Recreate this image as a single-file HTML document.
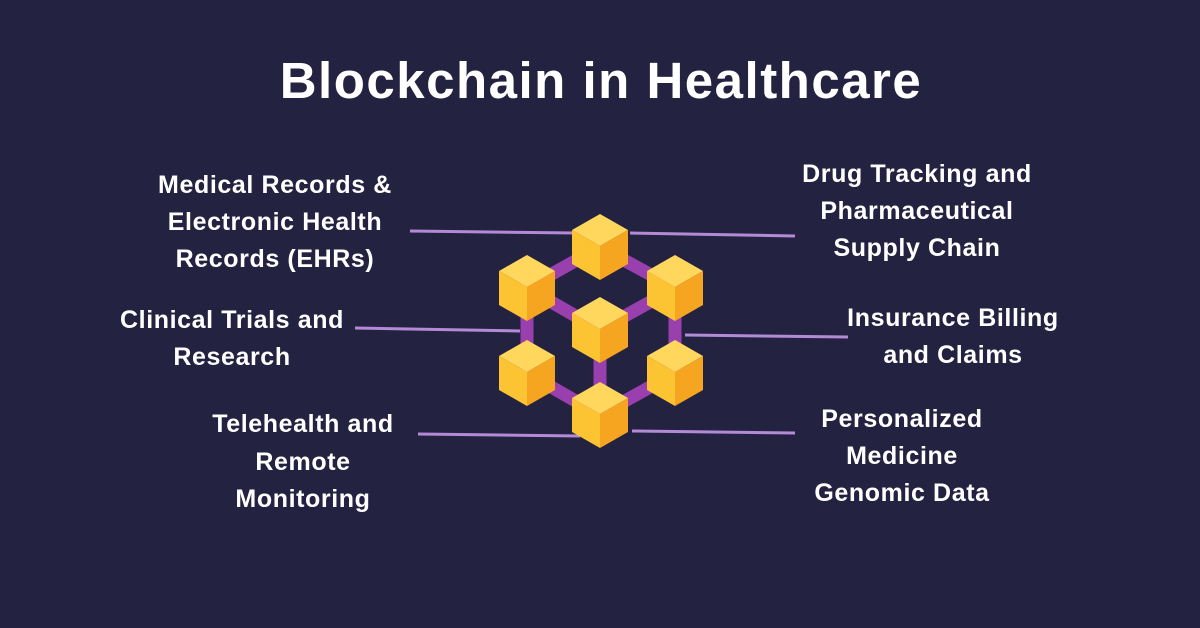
<!DOCTYPE html>
<html><head><meta charset="utf-8"><style>
html,body{margin:0;padding:0;background:#232240;}
svg{display:block}
text{font-family:"Liberation Sans",sans-serif;font-weight:bold;fill:#fff;text-anchor:middle}
</style></head><body>
<svg width="1200" height="628" viewBox="0 0 1200 628" xmlns="http://www.w3.org/2000/svg">
<rect width="1200" height="628" fill="#232240"/>
<text x="601" y="98" font-size="51" letter-spacing="1.5">Blockchain in Healthcare</text>
<g font-size="25" letter-spacing="0.6">
<text x="275" y="193">Medical Records &amp;</text>
<text x="275" y="230">Electronic Health</text>
<text x="275" y="267">Records (EHRs)</text>
<text x="917" y="182">Drug Tracking and</text>
<text x="917" y="219">Pharmaceutical</text>
<text x="917" y="256">Supply Chain</text>
<text x="232" y="328">Clinical Trials and</text>
<text x="232" y="365">Research</text>
<text x="953" y="326">Insurance Billing</text>
<text x="953" y="363">and Claims</text>
<text x="303" y="432">Telehealth and</text>
<text x="303" y="470">Remote</text>
<text x="303" y="507">Monitoring</text>
<text x="902" y="427">Personalized</text>
<text x="902" y="464">Medicine</text>
<text x="902" y="501">Genomic Data</text>
</g>
<g stroke="#b48ad6" stroke-width="3">
<line x1="410" y1="231" x2="575" y2="233"/>
<line x1="630" y1="233" x2="795" y2="236"/>
<line x1="355" y1="328" x2="520" y2="331"/>
<line x1="685" y1="335" x2="848" y2="337"/>
<line x1="418" y1="434" x2="580" y2="436"/>
<line x1="632" y1="431" x2="795" y2="433"/>
</g>
<g stroke="#9a3fae" stroke-width="13" fill="none">
<polyline points="600,247 527,288 527,373 600,415 675,373 675,288 600,247"/>
<line x1="600" y1="330" x2="527" y2="288"/>
<line x1="600" y1="330" x2="675" y2="288"/>
<line x1="600" y1="330" x2="600" y2="415"/>
</g>
<defs>
<g id="c">
<polygon points="0,-33 28,-17 0,-1 -28,-17" fill="#ffd75c"/>
<polygon points="-28,-17 0,-1 0,33 -28,17" fill="#fcc332"/>
<polygon points="28,-17 0,-1 0,33 28,17" fill="#f5a51f"/>
</g>
</defs>
<use href="#c" x="600" y="247"/>
<use href="#c" x="527" y="288"/>
<use href="#c" x="675" y="288"/>
<use href="#c" x="600" y="330"/>
<use href="#c" x="527" y="373"/>
<use href="#c" x="675" y="373"/>
<use href="#c" x="600" y="415"/>
</svg>
</body></html>
